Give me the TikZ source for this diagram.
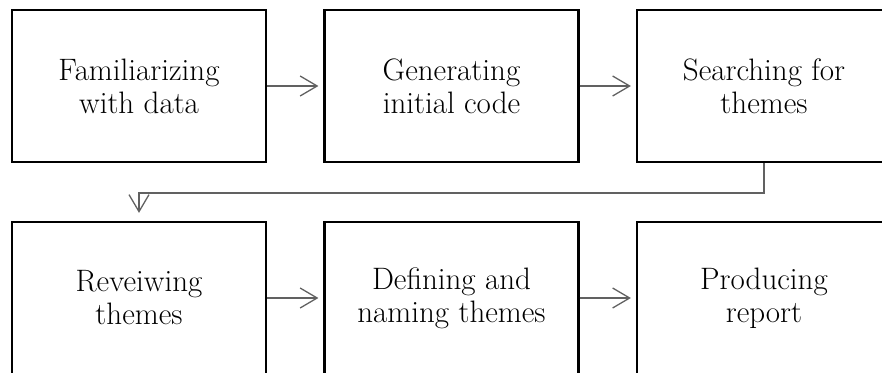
\documentclass[tikz,border=0pt]{standalone}
\usetikzlibrary{arrows.meta,positioning}
\begin{document}
\begin{tikzpicture}[x=1pt,y=-1pt,
  stepbox/.style={draw=black,line width=2.2pt,minimum width=254pt,minimum height=152pt,
    inner sep=0pt,align=center,font=\fontsize{31}{33}\selectfont},
  flow/.style={draw=black!62,line width=1.3pt,
    -{Straight Barb[length=17pt,width=20pt,line width=1.3pt]}}]
\useasboundingbox (0,0) rectangle (882,372);
\clip (0,0) rectangle (882,372);
\node[stepbox] (a) at (139,86) {Familiarizing\\with data};
\node[stepbox] (b) at (451.5,86) {Generating\\initial code};
\node[stepbox] (c) at (764,86) {Searching for\\themes};
\node[stepbox] (d) at (139,298) {Reveiwing\\themes};
\node[stepbox] (e) at (451.5,298) {Defining and\\naming themes};
\node[stepbox] (f) at (764,298) {Producing\\report};
\draw[flow,shorten >=5pt] (a) -- (b);
\draw[flow,shorten >=5pt] (b) -- (c);
\draw[flow,shorten >=5pt] (d) -- (e);
\draw[flow,shorten >=5pt] (e) -- (f);
\draw[flow,shorten >=8pt] (c.south) -- ++(0,30) -| (d.north);
\end{tikzpicture}
\end{document}
